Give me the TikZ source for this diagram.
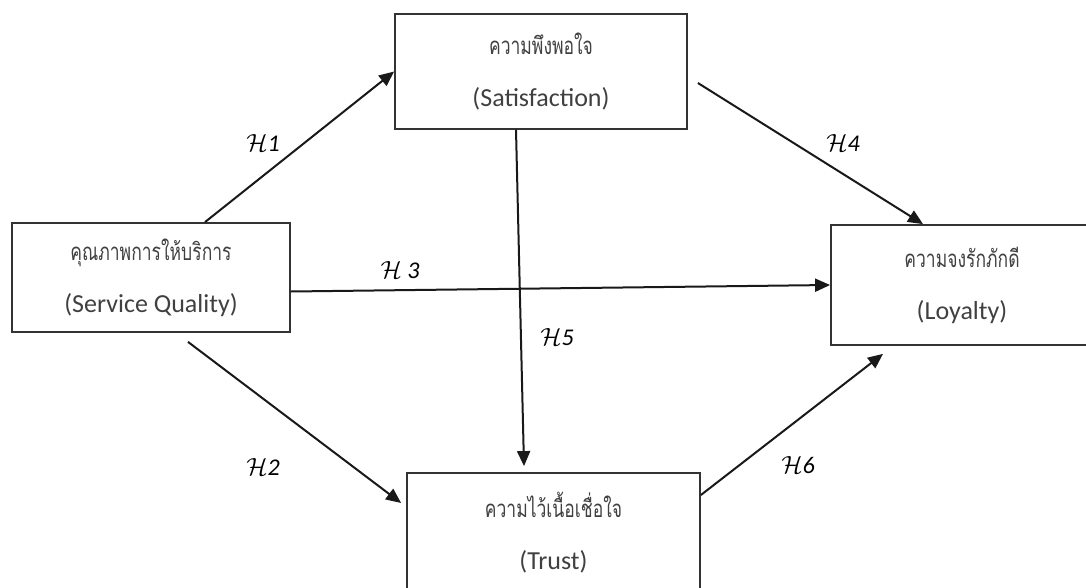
\documentclass[tikz,border=0pt]{standalone}
\usepackage{fontspec}
\setmainfont{Carlito}
\newfontfamily\thaifont[Script=Thai,FakeStretch=0.73]{Loma}
\usetikzlibrary{arrows.meta}

\begin{document}
\begin{tikzpicture}[x=1pt,y=-1pt]
\tikzstyle{boxStyle}=[shape = rectangle, draw = black!80, line width = 1.8pt, align = center, text = black!75, inner sep = 0pt, font = \fontsize{26}{52}\selectfont]
\tikzstyle{arrowStyle}=[line width = 2pt, draw = black!90, -{Triangle[length=15pt,width=13pt]}]
\tikzstyle{hypStyle}=[inner sep = 0pt, font = \fontsize{24}{24}\selectfont]
\newcommand{\thaiLine}[1]{{\thaifont\fontsize{24}{52}\selectfont #1}}
\useasboundingbox (0,0) rectangle (1086,588);
\clip (0,0) rectangle (1086,588);
% constructs
\node[boxStyle, minimum width = 278pt, minimum height = 109pt] (sq) at (151,277.5) {\thaiLine{คุณภาพการให้บริการ}\\(Service Quality)};
\node[boxStyle, minimum width = 292pt, minimum height = 115pt] (sat) at (541,71.5) {\thaiLine{ความพึงพอใจ}\\(Satisfaction)};
\node[boxStyle, minimum width = 262pt, minimum height = 120pt] (loy) at (962,285) {\thaiLine{ความจงรักภักดี}\\(Loyalty)};
\node[boxStyle, minimum width = 293pt, minimum height = 119pt] (tru) at (553.5,532.5) {\thaiLine{ความไว้เนื้อเชื่อใจ}\\(Trust)};
% hypotheses
\draw[arrowStyle] ([xshift=54pt]sq.north) -- (sat.west);
\draw[arrowStyle] ([xshift=37pt,yshift=-9pt]sq.south) -- ([xshift=-5pt,yshift=29.5pt]tru.west);
\draw[arrowStyle] ([yshift=-14pt]sq.east) -- (loy.west);
\draw[arrowStyle] ([xshift=10pt,yshift=-11.5pt]sat.east) -- ([xshift=-39pt]loy.north);
\draw[arrowStyle] ([xshift=-25pt]sat.south) -- ([xshift=-29.5pt,yshift=6pt]tru.north);
\draw[arrowStyle] ([yshift=37.5pt]tru.east) -- ([xshift=-79pt,yshift=-8pt]loy.south);
\node[hypStyle] (h1) at (263,143) {$\mathcal{H}\mathit{1}$};
\node[hypStyle] (h2) at (263,467) {$\mathcal{H}\mathit{2}$};
\node[hypStyle] (h3) at (400,270) {$\mathcal{H}\ \mathit{3}$};
\node[hypStyle] (h4) at (843,143) {$\mathcal{H}\mathit{4}$};
\node[hypStyle] (h5) at (557,337) {$\mathcal{H}\mathit{5}$};
\node[hypStyle] (h6) at (798,465) {$\mathcal{H}\mathit{6}$};
\end{tikzpicture}
\end{document}
